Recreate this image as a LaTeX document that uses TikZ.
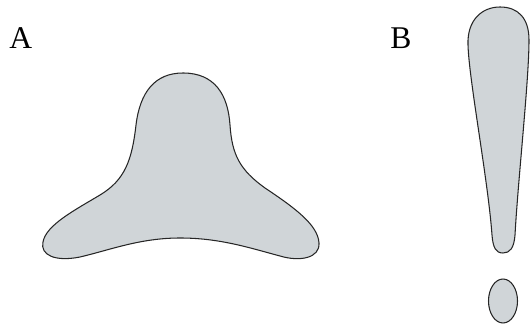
\documentclass[tikz,border=0pt]{standalone}
\usepackage{fontspec}
\setmainfont{Liberation Serif}
\definecolor{blobgray}{RGB}{208,213,216}
\tikzset{
  blob/.style={draw=black!85, line width=0.6pt, fill=blobgray},
  letter/.style={anchor=base west, inner sep=0pt, font=\fontsize{18}{20}\selectfont}
}
\begin{document}
\begin{tikzpicture}[x=0.02cm, y=-0.02cm]
    \useasboundingbox (0,0) rectangle (530,327);

    % 标签
    \node[letter] (labA) at (9,49) {A};
    \node[letter] (labB) at (390,49) {B};

    % 图形 A
    \draw[blob] (183,73)
        .. controls (215,73) and (228,95) .. (230,125)
        .. controls (232,155) and (240,170) .. (265,188)
        .. controls (295,208) and (318,225) .. (319,243)
        .. controls (320,258) and (300,262) .. (280,256)
        .. controls (250,248) and (220,238) .. (180,238)
        .. controls (140,238) and (110,250) .. (80,257)
        .. controls (55,262) and (40,255) .. (43,242)
        .. controls (46,225) and (75,210) .. (100,195)
        .. controls (125,180) and (132,160) .. (136,125)
        .. controls (140,92) and (155,73) .. cycle;

    % 图形 B：竖条
    \draw[blob] (500,7)
        .. controls (518,7) and (529,18) .. (529,40)
        .. controls (529,80) and (518,180) .. (515,235)
        .. controls (514,248) and (510,253) .. (503,253)
        .. controls (496,253) and (493,248) .. (492,235)
        .. controls (488,180) and (469,80) .. (468,45)
        .. controls (467,20) and (482,7) .. cycle;

    % 图形 B：圆点
    \draw[blob] (503,301) ellipse [x radius=14.5, y radius=22];
\end{tikzpicture}
\end{document}
